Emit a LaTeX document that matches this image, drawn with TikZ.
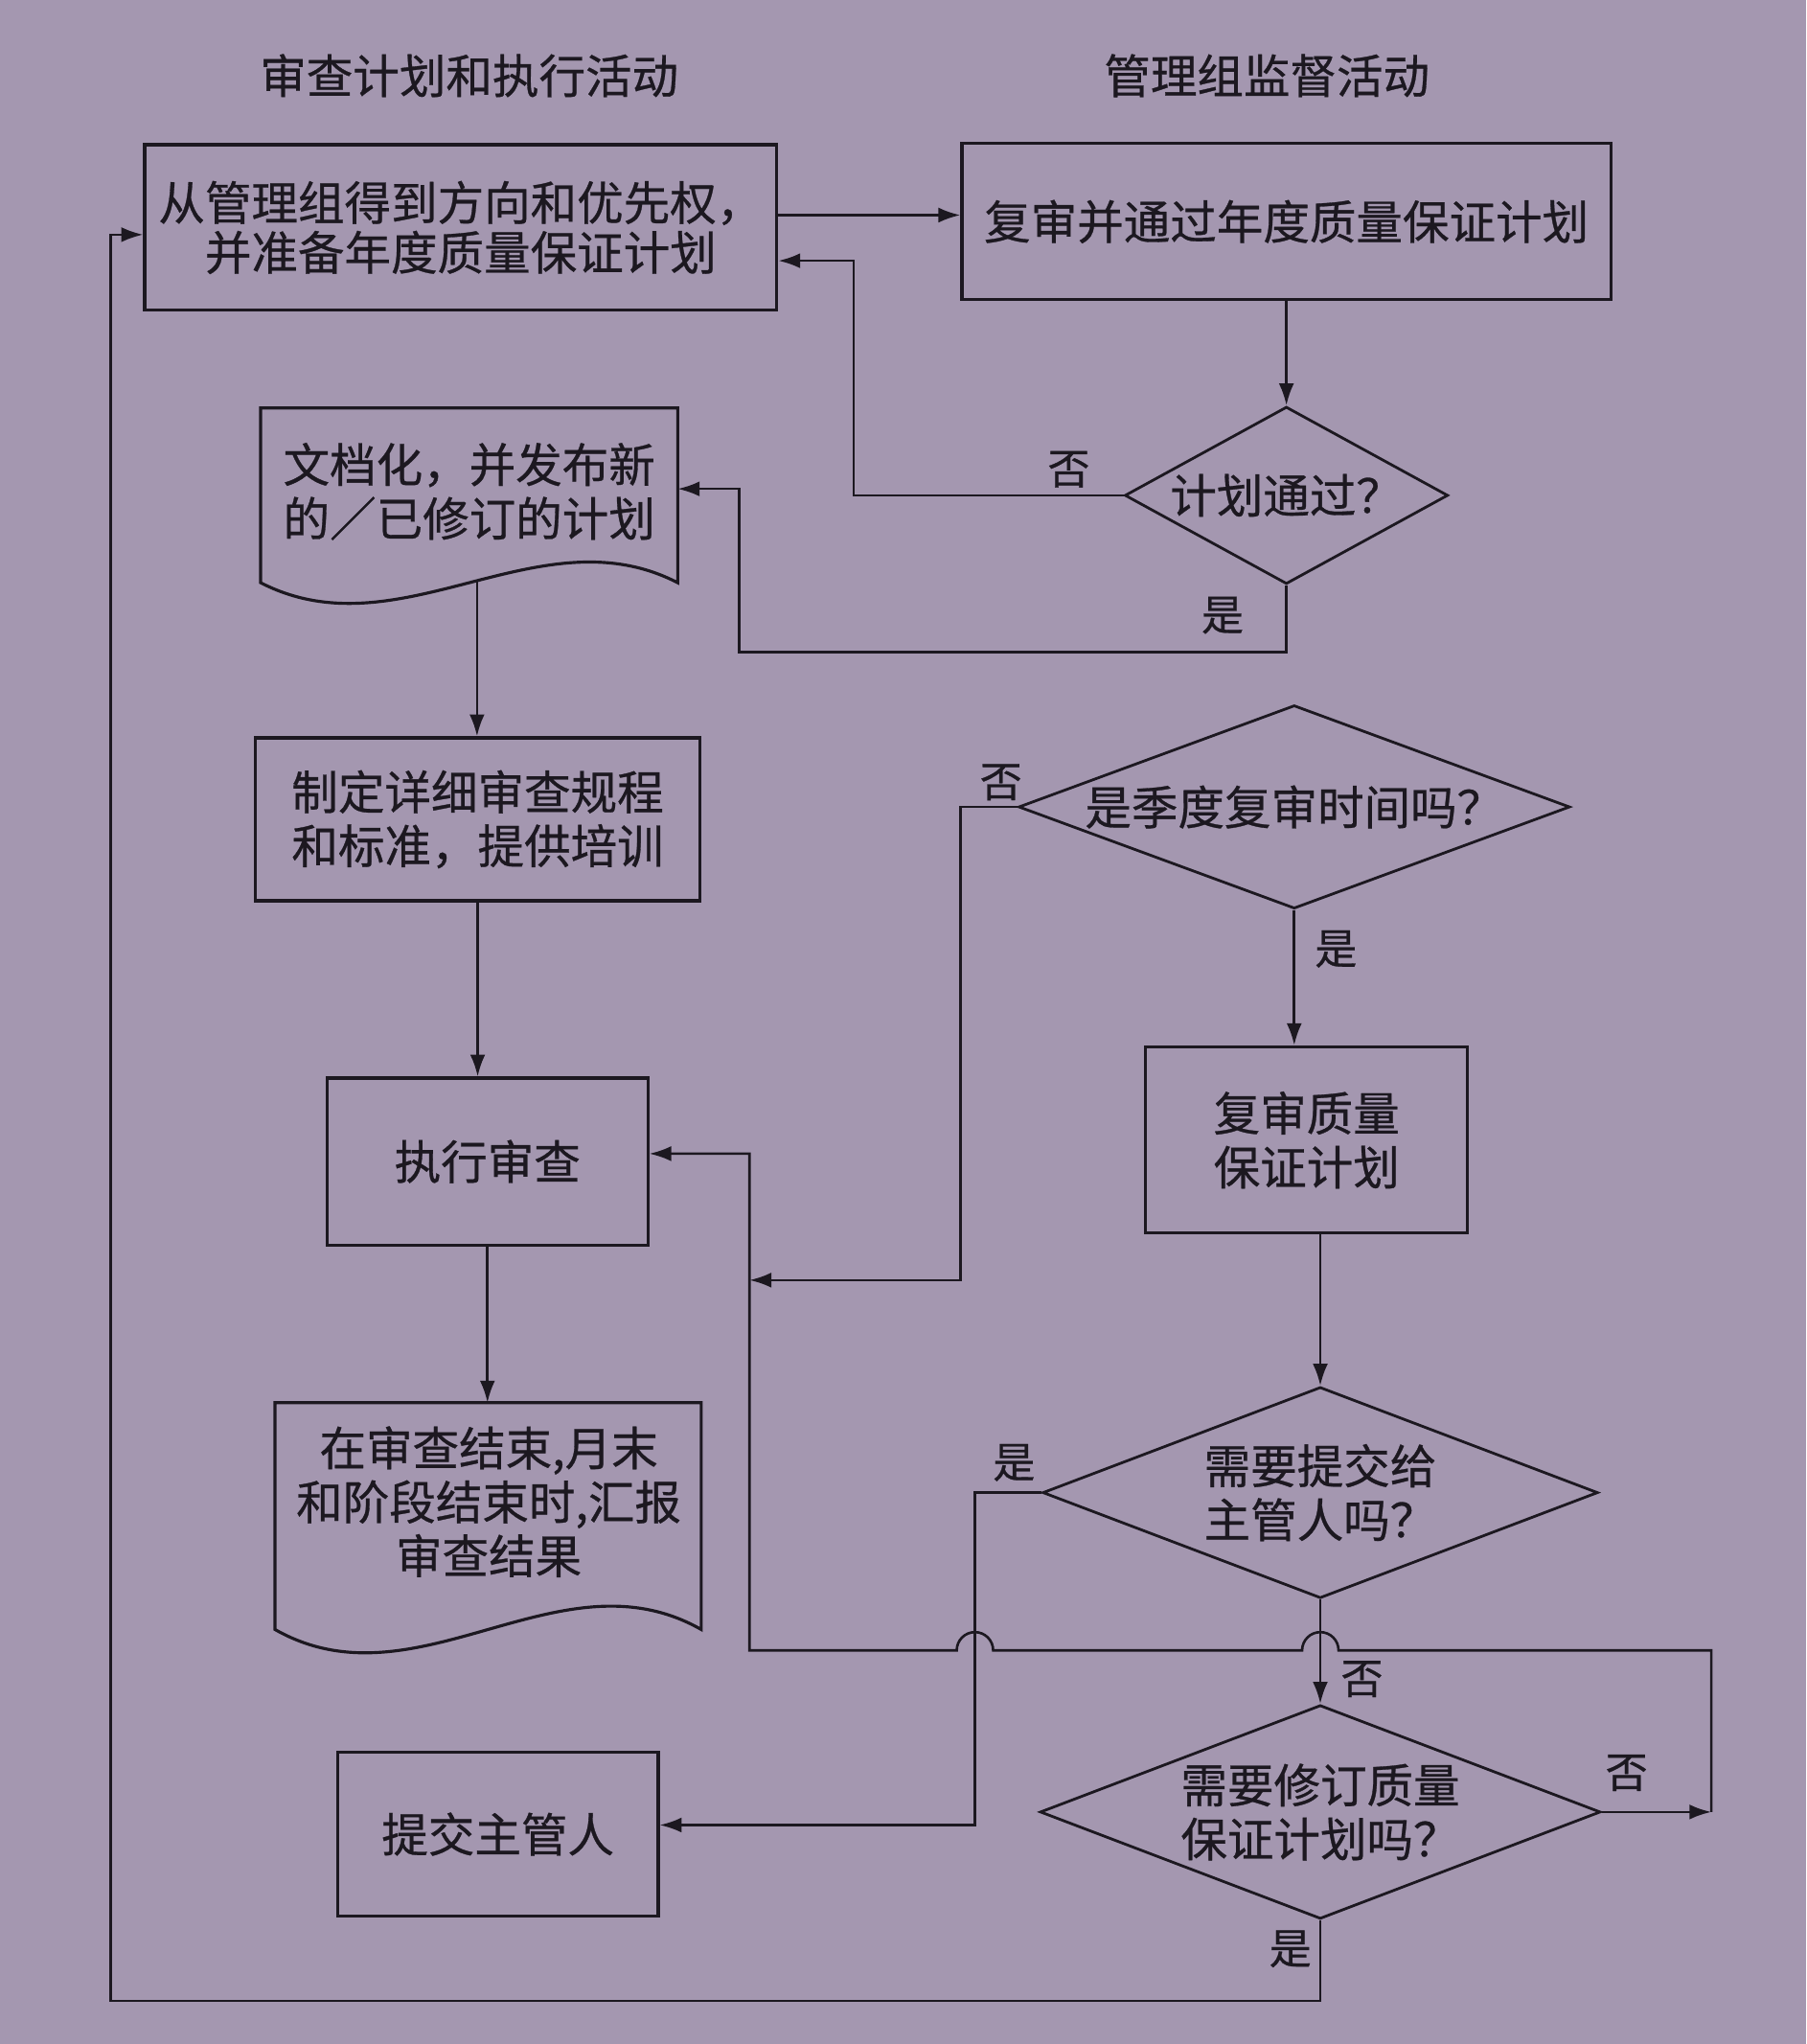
\documentclass[tikz,border=0pt]{standalone}
\usepackage{fontspec}
\newfontfamily\cjkfont[FakeBold=0.6]{Noto Sans CJK SC}
\usetikzlibrary{shapes.geometric,arrows.meta}
\definecolor{paper}{RGB}{164,151,176}
\definecolor{ink}{RGB}{28,24,32}
\begin{document}
\begin{tikzpicture}[x=0.0136cm,y=-0.0136cm,
  every node/.style={font=\cjkfont\fontsize{13.8}{16}\selectfont, text=ink, inner sep=0pt},
  box/.style 2 args={draw=ink, line width=0.9pt, minimum width=#1*0.0136cm, minimum height=#2*0.0136cm, align=center},
  dia/.style n args={3}{draw=ink, line width=0.8pt, diamond, aspect=#3, minimum width=#1*0.0136cm, minimum height=#2*0.0136cm, align=center},
  doctext/.style={align=center},
  tightlines/.style={font=\cjkfont\fontsize{13.8}{14.8}\selectfont},
  lbl/.style={font=\cjkfont\fontsize{12.5}{14}\selectfont},
  docline/.style={draw=ink, line width=0.9pt},
  conn/.style={draw=ink, line width=0.75pt},
  arr/.style={conn, -{Latex[length=6.5pt,width=4.5pt]}},
]
\fill[paper] (0,0) rectangle (1386,1568);
\useasboundingbox (0,0) rectangle (1386,1568);

% headers
\node (h1) at (360,58) {审查计划和执行活动};
\node (h2) at (972,58) {管理组监督活动};

% left column
\node[box={485}{127}, tightlines] (b1) at (353.5,174.5) {从管理组得到方向和优先权，\\并准备年度质量保证计划};
\node[doctext] (doc1) at (360,377) {文档化，并发布新\\的／已修订的计划};
\draw[docline] (200,313) -- (520,313) -- (520,447) .. controls (413,392) and (307,502) .. (200,447) -- cycle;
\coordinate (doc1e) at (520,375);
\coordinate (doc1b) at (366,445);
\node[box={341}{125}] (b3) at (366.5,628.5) {制定详细审查规程\\和标准，提供培训};
\node[box={246}{128}] (b4) at (374,891) {执行审查};
\node[doctext] (doc2) at (375,1152) {在审查结束,月末\\和阶段结束时,汇报\\审查结果};
\draw[docline] (211,1076) -- (538,1076) -- (538,1250) .. controls (429,1188) and (320,1312) .. (211,1250) -- cycle;
\coordinate (doc2t) at (374,1076);
\node[box={246}{126}] (b6) at (382,1407) {提交主管人};

% right column
\node[box={498}{120}] (b2) at (987,170) {复审并通过年度质量保证计划};
\node[dia={248}{136}{1.824}] (d1) at (987,380) {计划通过？};
\node[dia={423}{156}{2.712}] (d2) at (993,619) {是季度复审时间吗？};
\node[box={247}{143}] (b5) at (1002.5,874.5) {复审质量\\保证计划};
\node[dia={426}{162}{2.630}] (d3) at (1013,1145) {需要提交给\\主管人吗？};
\node[dia={430}{164}{2.622}] (d4) at (1013,1390) {需要修订质量\\保证计划吗？};

\coordinate (jn) at (575,982);
\coordinate (rt) at (1313,1390);

% connectors
\draw[arr] (b1.east |- 0,165) -- (b2.west |- 0,165);
\draw[arr] (b2.south) -- (d1.north);
\draw[arr] (d1.west) -- (655,380) -- (655,200) -- (b1.east |- 0,200);
\draw[arr] (d1.south) -- (987,500) -- (567,500) -- (567,375) -- (doc1e);
\draw[arr] (doc1b) -- (doc1b |- b3.north);
\draw[arr] (b3.south) -- (b3.south |- b4.north);
\draw[arr] (b4.south) -- (doc2t);
\draw[arr] (d2.west) -- (737,619) -- (737,982) -- (jn);
\draw[arr] (d2.south) -- (d2.south |- b5.north);
\draw[arr] (d3.north |- b5.south) -- (d3.north);
\draw[arr] (d3.west) -- (748,1145) -- (748,1400) -- (b6.east |- 0,1400);
\draw[arr] (d3.south) -- (d4.north);
\draw[arr] (d4.east) -- (rt);
\draw[arr] (rt) -- (1313,1266) -- (1027,1266)
   arc[start angle=0, end angle=180, radius=0.19cm] -- (762,1266)
   arc[start angle=0, end angle=180, radius=0.19cm] -- (575,1266)
   -- (575,885) -- (b4.east |- 0,885);
\draw[arr] (d4.south) -- (1013,1535) -- (85,1535) -- (85,180) -- (b1.west |- 0,180);

% labels
\node[lbl] (l1) at (820,360) {否};
\node[lbl] (l2) at (938,472) {是};
\node[lbl] (l3) at (768,600) {否};
\node[lbl] (l4) at (1025,728) {是};
\node[lbl] (l5) at (778,1122) {是};
\node[lbl] (l6) at (1045,1288) {否};
\node[lbl] (l7) at (1248,1360) {否};
\node[lbl] (l8) at (990,1495) {是};
\end{tikzpicture}
\end{document}
